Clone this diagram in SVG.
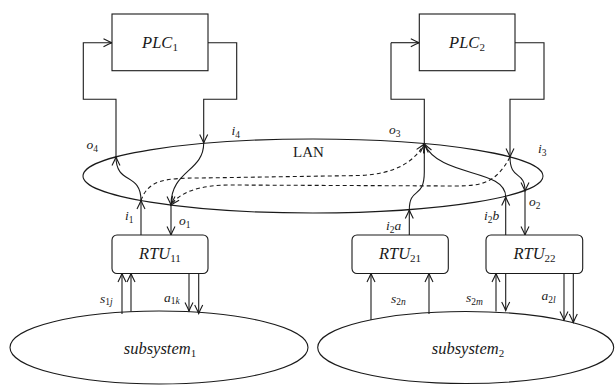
<svg xmlns="http://www.w3.org/2000/svg" width="616" height="385" viewBox="0 0 616 385" font-family="'Liberation Serif', 'DejaVu Serif', 'Times New Roman', serif">
<style>
.ln{fill:none;stroke:#1a1a1a;stroke-width:1.1}
.ar{marker-end:url(#arr)}
.da{stroke-dasharray:4,3}
.box{fill:#fff;stroke:#1a1a1a;stroke-width:1.1}
.el{fill:none;stroke:#1a1a1a;stroke-width:1.1}
text{font-family:'Liberation Serif','DejaVu Serif',serif;font-style:italic;fill:#1a1a1a}
.big{font-size:16.5px}
.lab{font-size:13.5px}
.up{font-style:normal}
</style>
<defs>
<marker id="arr" markerUnits="userSpaceOnUse" markerWidth="14" markerHeight="14" viewBox="-11 -7 13 14" refX="0" refY="0" orient="auto">
<path d="M-8.5,-4 Q-3,-1.2 0,0 Q-3,1.2 -8.5,4" fill="none" stroke="#1a1a1a" stroke-width="1.1"/>
</marker>
</defs>

<g id="lan"><ellipse class="el" cx="313" cy="176" rx="230" ry="37"/><text class="up" x="308.5" y="157" font-size="15" text-anchor="middle">LAN</text></g>
<g id="subsystem1"><ellipse class="el" cx="159" cy="347.5" rx="149" ry="36.5"/><text class="big" x="160" y="354" text-anchor="middle">subsystem<tspan class="up" font-size="11" dy="3">1</tspan></text></g>
<g id="subsystem2"><ellipse class="el" cx="465.7" cy="347.5" rx="148" ry="36"/><text class="big" x="468" y="354" text-anchor="middle">subsystem<tspan class="up" font-size="11" dy="3">2</tspan></text></g>

<g id="connectors">
<path class="ln ar" d="M116,157 L116,99.3 L83.3,99.3 L83.3,42.7 L112,42.7"/>
<path class="ln ar" d="M208,42.7 L236.7,42.7 L236.7,99.3 L203.7,99.3 L203.7,143"/>
<path class="ln" d="M424.3,144 L424.3,99.3 L391,99.3 L391,42.7"/>
<path class="ln ar" d="M391,42.7 L419.3,42.7"/>
<path class="ln ar" d="M515,42.7 L544,42.7 L544,99.3 L510,99.3 L510,157"/>
<path class="ln ar" d="M141,235 L141,200.5"/>
<path class="ln ar" d="M141,200.5 C141,172 116,185 116,157"/>
<path class="ln ar" d="M203.7,143 C203.7,172 171,170 171,205"/>
<path class="ln ar" d="M171,205 L171,235"/>
<path class="ln ar" d="M409.3,235 L409.3,210"/>
<path class="ln ar" d="M409.3,210 C409.3,186 424.3,200 424.3,172 L424.3,144"/>
<path class="ln ar" d="M505.7,235 L505.7,197"/>
<path class="ln ar" d="M505.7,197 C505.7,168 440,178 424.3,144"/>
<path class="ln ar" d="M510,157 C510,181 525,170 525,191"/>
<path class="ln ar" d="M525,191 L525,235"/>
<path class="ln ar da" d="M141,200.5 C148,180 165,178 200,178 L360,175.5 C395,174 414,162 424.3,144"/>
<path class="ln ar da" d="M510,157 C496,183 482,186 455,186 L230,185 C200,185 180,192 171,205"/>
<path class="ln ar" d="M122,314 L122,273.5"/>
<path class="ln ar" d="M131,311.5 L131,273.5"/>
<path class="ln ar" d="M189,273.5 L189,311"/>
<path class="ln ar" d="M198.7,273.5 L198.7,313.5"/>
<path class="ln ar" d="M371,320 L371,273.5"/>
<path class="ln ar" d="M429,314 L429,273.5"/>
<path class="ln ar" d="M496,311.5 L496,273.5"/>
<path class="ln ar" d="M505.7,273.5 L505.7,310.5"/>
<path class="ln ar" d="M564,273.5 L564,320"/>
<path class="ln ar" d="M573.3,273.5 L573.3,322.5"/>
</g>

<g id="plc1"><rect class="box" x="112" y="14" width="96" height="56.7"/><text class="big" x="160" y="47.5" text-anchor="middle">PLC<tspan class="up" font-size="11" dy="3">1</tspan></text></g>
<g id="plc2"><rect class="box" x="419.3" y="14" width="95.7" height="56.7"/><text class="big" x="467" y="47.5" text-anchor="middle">PLC<tspan class="up" font-size="11" dy="3">2</tspan></text></g>
<g id="rtu11"><rect class="box" x="112" y="235" width="96" height="38.5" rx="5"/><text class="big" x="160" y="258.5" text-anchor="middle">RTU<tspan class="up" font-size="11" dy="3">11</tspan></text></g>
<g id="rtu21"><rect class="box" x="352" y="235" width="96.3" height="38.5" rx="5"/><text class="big" x="400" y="258.5" text-anchor="middle">RTU<tspan class="up" font-size="11" dy="3">21</tspan></text></g>
<g id="rtu22"><rect class="box" x="486" y="235" width="96.7" height="38.5" rx="5"/><text class="big" x="534.5" y="258.5" text-anchor="middle">RTU<tspan class="up" font-size="11" dy="3">22</tspan></text></g>

<g id="labels">
<text class="lab" x="86.5" y="149">o<tspan class="up" font-size="9.5" dy="2.5">4</tspan></text>
<text class="lab" x="231.5" y="135">i<tspan class="up" font-size="9.5" dy="2.5">4</tspan></text>
<text class="lab" x="125" y="220">i<tspan class="up" font-size="9.5" dy="2.5">1</tspan></text>
<text class="lab" x="179" y="225">o<tspan class="up" font-size="9.5" dy="2.5">1</tspan></text>
<text class="lab" x="389" y="134">o<tspan class="up" font-size="9.5" dy="2.5">3</tspan></text>
<text class="lab" x="538" y="153">i<tspan class="up" font-size="9.5" dy="2.5">3</tspan></text>
<text class="lab" x="529" y="206">o<tspan class="up" font-size="9.5" dy="2.5">2</tspan></text>
<text class="lab" x="386" y="230">i<tspan class="up" font-size="9.5" dy="2.5">2</tspan><tspan dy="-2.5">a</tspan></text>
<text class="lab" x="484" y="220">i<tspan class="up" font-size="9.5" dy="2.5">2</tspan><tspan dy="-2.5">b</tspan></text>
<text class="lab" x="100" y="302.5">s<tspan font-size="9.5" dy="2.5"><tspan class="up">1</tspan>j</tspan></text>
<text class="lab" x="164" y="301.5">a<tspan font-size="9.5" dy="2.5"><tspan class="up">1</tspan>k</tspan></text>
<text class="lab" x="391" y="302.5">s<tspan font-size="9.5" dy="2.5"><tspan class="up">2</tspan>n</tspan></text>
<text class="lab" x="466" y="302">s<tspan font-size="9.5" dy="2.5"><tspan class="up">2</tspan>m</tspan></text>
<text class="lab" x="541.5" y="300">a<tspan font-size="9.5" dy="2.5"><tspan class="up">2</tspan>l</tspan></text>
</g>
</svg>
